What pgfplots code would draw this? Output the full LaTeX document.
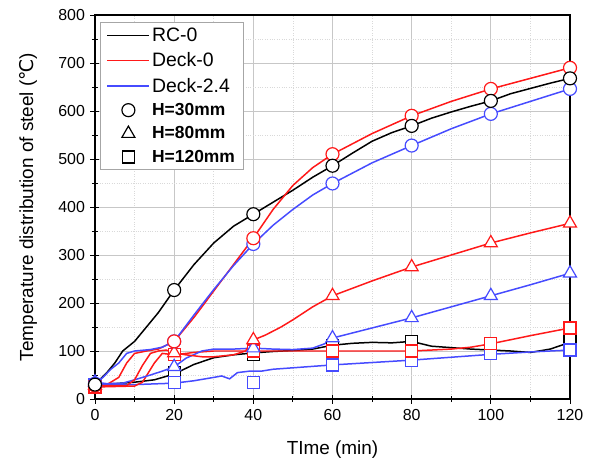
\documentclass[border=0pt]{standalone}
\usepackage{pgfplots}
\pgfplotsset{compat=1.18}
\usepackage{fontspec}
\setmainfont{Liberation Sans}
\newfontfamily\dejavu{DejaVu Sans}
\definecolor{cred}{RGB}{255,25,25}
\definecolor{cblue}{RGB}{70,75,255}
\pgfplotsset{
  marklegend/.style={legend image code/.code={\draw[##1] plot coordinates {(21bp,0bp)};}},
}
\begin{document}
\begin{tikzpicture}
\begin{axis}[
  scale only axis, width=475bp, height=384bp,
  xmin=0, xmax=120, ymin=0, ymax=800,
  xtick={0,20,...,120}, ytick={0,100,...,800},
  minor x tick num=1, minor y tick num=1,
  grid=both,
  major grid style={black!22, line width=0.9pt},
  minor grid style={black!15, dotted, line width=0.8pt},
  axis line style={line width=1.3pt},
  tick align=center, tick pos=left,
  major tick length=9bp, minor tick length=6bp,
  tick style={black, line width=0.9pt},
  /pgf/number format/assume math mode=true,
  tick label style={font=\fontsize{16}{16}\selectfont},
  xticklabel style={yshift=-2bp},
  yticklabel style={xshift=-2bp},
  label style={font=\fontsize{19}{19}\selectfont},
  xlabel={TIme (min)},
  ylabel={Temperature distribution of steel ({\dejavu ℃})},
  xlabel style={at={(axis description cs:0.5,-0.133)}, anchor=center},
  ylabel style={at={(axis description cs:-0.141,0.5)}, anchor=center},
  legend style={at={(0.011,0.982)}, anchor=north west, draw=black!35, line width=0.9pt,
    fill=white, font=\fontsize{19.5}{19.5}\selectfont, row sep=5.8pt, inner xsep=6pt, inner ysep=3.5pt},
  legend cell align=left,
  legend image code/.code={\draw[#1] (0bp,0bp) -- (42bp,0bp);},
  every axis plot/.append style={line width=1.5pt},
]
% ---- H30 lines (legend carriers) ----
\addplot[black, no marks] coordinates {(0,30)(3,55)(5,75)(7,100)(10,120)(13,150)(16,180)(20,227)(25,280)(30,325)(35,360)(40,385)(45,410)(50,435)(55,462)(60,486)(65,512)(70,537)(75,555)(80,569)(85,585)(90,598)(95,610)(100,621)(105,636)(110,647)(115,658)(120,668)};
\addlegendentry{RC-0}
\addplot[cred, no marks] coordinates {(0,28)(3,30)(6,45)(8,75)(10,95)(13,100)(16,104)(20,120)(25,170)(30,225)(35,280)(40,335)(45,395)(50,445)(55,482)(60,510)(70,553)(80,590)(90,620)(100,646)(110,668)(120,690)};
\addlegendentry{Deck-0}
\addplot[cblue, no marks] coordinates {(0,32)(2,45)(4,62)(6,75)(8,95)(10,100)(14,103)(17,108)(20,120)(25,175)(30,228)(35,278)(40,323)(45,362)(50,395)(55,425)(60,449)(70,492)(80,528)(90,563)(100,594)(110,620)(120,646)};
\addlegendentry{Deck-2.4}
\addlegendimage{black, only marks, mark=o, mark size=6.5bp, mark options={line width=1.2pt}, marklegend}
\addlegendentry{\fontsize{17.5}{17.5}\selectfont\bfseries H=30mm}
\addlegendimage{black, only marks, mark=triangle, mark size=7.5bp, mark options={line width=1.2pt}, marklegend}
\addlegendentry{\fontsize{17.5}{17.5}\selectfont\bfseries H=80mm}
\addlegendimage{black, only marks, mark=square, mark size=6bp, mark options={line width=1.2pt}, marklegend}
\addlegendentry{\fontsize{17.5}{17.5}\selectfont\bfseries H=120mm}

% ---- other lines ----
% RC-0 H120
\addplot[black, no marks, forget plot] coordinates {(0,30)(5,32)(10,35)(15,40)(20,52)(25,72)(30,86)(35,92)(40,96)(45,99)(50,101)(55,104)(60,112)(65,116)(70,118)(75,117)(80,120)(85,110)(90,107)(95,104)(100,102)(105,100)(110,97)(115,104)(120,118)};
% Blue H120
\addplot[cblue, no marks, forget plot] coordinates {(0,30)(10,30)(20,33)(25,38)(30,45)(32,48)(34,42)(36,55)(39,58)(42,58)(45,62)(50,65)(55,68)(60,71)(70,76)(80,81)(90,87)(100,93)(110,98)(120,102)};
% Red H120
\addplot[cred, no marks, forget plot] coordinates {(0,25)(10,27)(12,35)(15,75)(17,95)(20,92)(25,97)(30,100)(40,100)(50,100)(60,100)(70,100)(80,100)(90,104)(95,108)(100,115)(110,132)(120,148)};
% Blue H80
\addplot[cblue, no marks, forget plot] coordinates {(0,35)(3,32)(7,33)(10,40)(14,50)(17,58)(20,67)(23,85)(27,100)(30,104)(35,104)(40,106)(45,104)(50,103)(55,106)(58,115)(60,127)(70,148)(80,169)(90,192)(100,215)(110,238)(120,262)};
% Red H80
\addplot[cred, no marks, forget plot] coordinates {(0,28)(8,28)(10,40)(12,70)(14,95)(16,100)(18,102)(20,96)(23,92)(27,88)(30,88)(35,92)(38,100)(40,123)(43,133)(47,150)(50,165)(55,192)(60,215)(70,246)(80,275)(90,300)(100,325)(110,346)(120,366)};

% ---- markers ----
\pgfplotsset{mk/.style={only marks, forget plot, mark options={fill=white, line width=1.2pt}}}
\addplot[black, mk, mark=square*, mark size=6bp] coordinates {(0,30)(20,55)(40,93)(60,112)(80,120)(100,103)(120,125)};
\addplot[cblue, mk, mark=square*, mark size=6bp] coordinates {(0,30)(20,35)(40,35)(60,71)(80,81)(100,94)(120,102)};
\addplot[cred, mk, mark=square*, mark size=6bp] coordinates {(0,25)(20,92)(40,100)(60,100)(80,100)(100,115)(120,148)};
\addplot[cblue, mk, mark=triangle*, mark size=7.5bp] coordinates {(0,35)(20,67)(40,106)(60,127)(80,169)(100,215)(120,262)};
\addplot[cred, mk, mark=triangle*, mark size=7.5bp] coordinates {(0,28)(20,96)(40,123)(60,215)(80,275)(100,325)(120,366)};
\addplot[cblue, mk, mark=*, mark size=6.5bp] coordinates {(0,32)(20,120)(40,323)(60,449)(80,528)(100,594)(120,646)};
\addplot[cred, mk, mark=*, mark size=6.5bp] coordinates {(0,28)(20,120)(40,335)(60,510)(80,590)(100,646)(120,690)};
\addplot[black, mk, mark=*, mark size=6.5bp] coordinates {(0,30)(20,227)(40,385)(60,486)(80,569)(100,621)(120,668)};
\end{axis}
\path (-95bp,-65bp) rectangle (502bp,399bp);
\end{tikzpicture}
\end{document}
